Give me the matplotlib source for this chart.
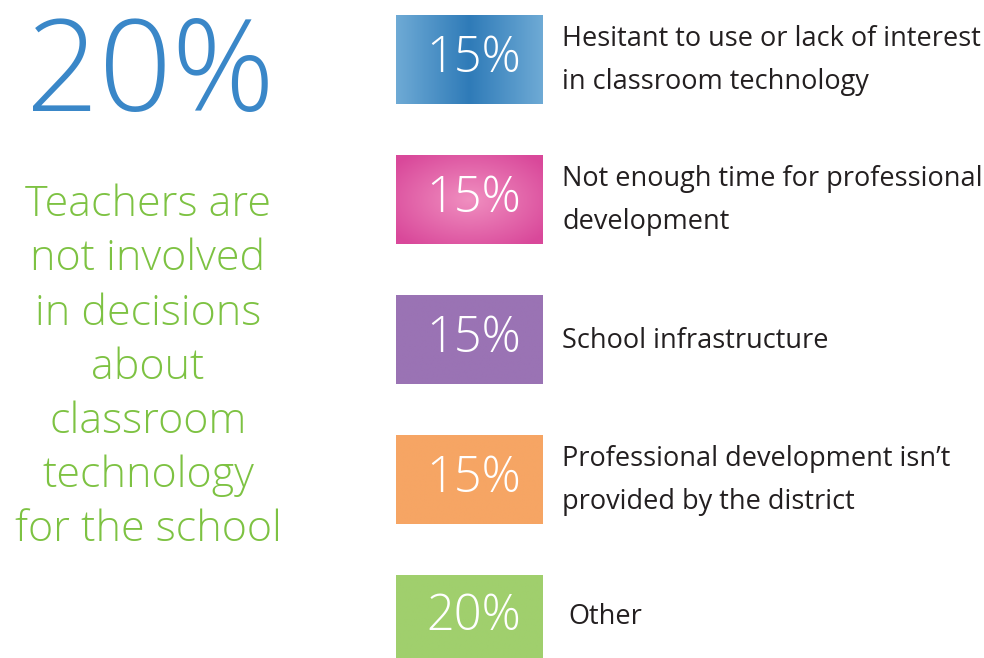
import numpy as np
import matplotlib.pyplot as plt
from matplotlib.colors import to_rgb

headline = "20%"
headline_text = ["Teachers are", "not involved", "in decisions", "about",
                 "classroom", "technology", "for the school"]

percents = [15, 15, 15, 15, 20]
labels = ["Hesitant to use or lack of interest\nin classroom technology",
          "Not enough time for professional\ndevelopment",
          "School infrastructure",
          "Professional development isn\u2019t\nprovided by the district",
          "Other"]
edge_colors = ["#6eaad5", "#d9489a", "#9a73b4", "#f6a564", "#a0cf6d"]
mid_colors = ["#2f7bb8", "#f08fc0", "#9a73b4", "#f6a564", "#a0cf6d"]
gradient = ["linear", "radial", None, None, None]

plt.rcParams['font.family'] = ['Open Sans', 'DejaVu Sans']

fig = plt.figure(figsize=(9.84, 6.58), dpi=100)
ax = fig.add_axes([0, 0, 1, 1])
ax.set_xlim(0, 984)
ax.set_ylim(658, 0)
ax.axis('off')

# left side
ax.text(150, 78, headline, color="#3a87c8", fontsize=92, ha='center',
        va='center', fontweight='light')
for i, line in enumerate(headline_text):
    ax.text(148, 205 + i * 54.2, line, color="#7dc242", fontsize=31,
            ha='center', va='center', fontweight='light')

# boxes
bx0, bx1 = 396, 543
bh = 89
for i, (p, lab) in enumerate(zip(percents, labels)):
    y0 = 15 + i * 140
    y1 = min(y0 + bh, 658)
    c0 = np.array(to_rgb(edge_colors[i]))
    c1 = np.array(to_rgb(mid_colors[i]))
    nx, ny = 120, 70
    xx, yy = np.meshgrid(np.linspace(-1, 1, nx), np.linspace(-1, 1, ny))
    if gradient[i] == "linear":
        t = np.clip(np.abs(xx), 0, 1)
    elif gradient[i] == "radial":
        t = np.clip(np.sqrt(xx ** 2 + yy ** 2) / 1.3, 0, 1)
    else:
        t = np.zeros_like(xx)
    img = c1[None, None, :] * (1 - t[..., None]) + c0[None, None, :] * t[..., None]
    ax.imshow(img, extent=(bx0, bx1, y1, y0), aspect='auto', zorder=1)
    ax.text((bx0 + bx1) / 2 + 4, (y0 + y1) / 2, f"{p}%", color="white",
            fontsize=35, ha='center', va='center', fontweight='light', zorder=2)
    lx = 568 if lab == "Other" else 562
    ax.text(lx, (y0 + y1) / 2 + 1, lab, color="#231f20", fontsize=19.5,
            ha='left', va='center', linespacing=1.75, zorder=2)

ax.set_xlim(0, 984)
ax.set_ylim(658, 0)
fig.savefig("out.png", dpi=100)
